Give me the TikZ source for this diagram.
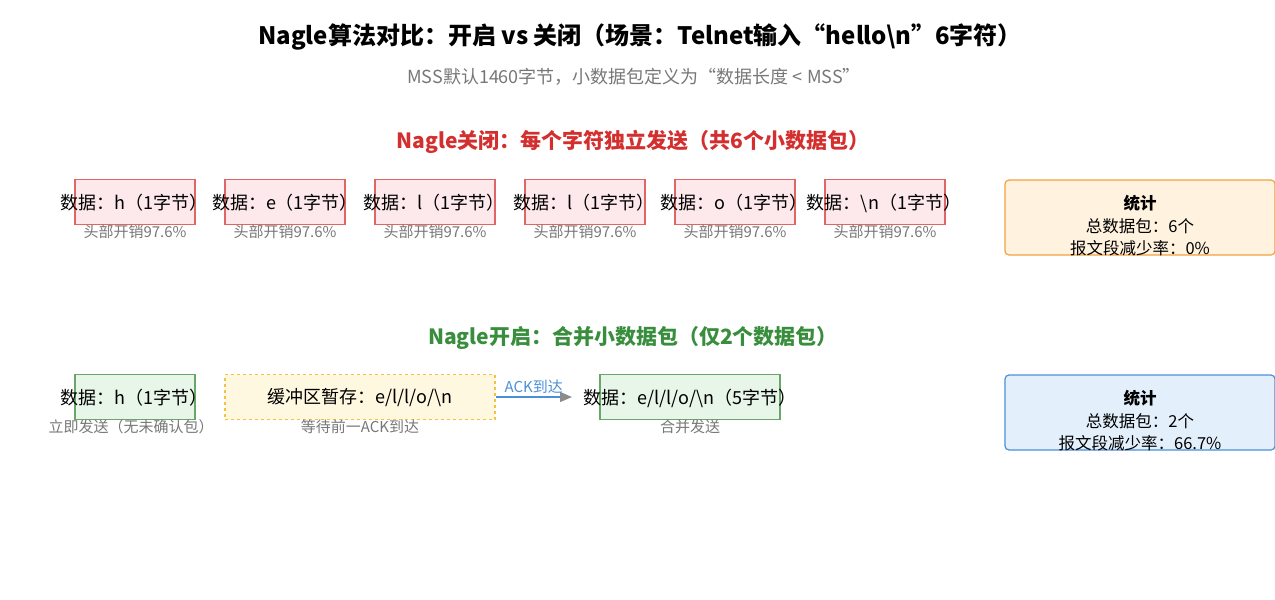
\documentclass[tikz,border=0pt]{standalone}
\usepackage{fontspec}
\setmainfont{Noto Sans CJK SC}
\usetikzlibrary{arrows.meta,positioning}
\definecolor{offred}{HTML}{D32F2F}
\definecolor{onggreen}{HTML}{388E3C}
\definecolor{ackblue}{HTML}{4A90D9}
\definecolor{notegray}{HTML}{777777}
\definecolor{pktred}{HTML}{E06666}
\definecolor{pktredfill}{HTML}{FDE9EB}
\definecolor{pktgreen}{HTML}{6AA66A}
\definecolor{pktgreenfill}{HTML}{E8F5E9}
\definecolor{bufyellow}{HTML}{F6C142}
\definecolor{bufyellowfill}{HTML}{FFF8E1}
\definecolor{statorange}{HTML}{F4A23C}
\definecolor{statorangefill}{HTML}{FFF2DF}
\definecolor{statbluefill}{HTML}{E3F0FC}

\begin{document}
\begin{tikzpicture}[x=1pt, y=-1pt,
  redbox/.style={rectangle, draw=pktred, line width=1.3pt, fill=pktredfill, minimum width=120pt, minimum height=45pt},
  greenbox/.style={rectangle, draw=pktgreen, line width=1.3pt, fill=pktgreenfill, minimum width=#1, minimum height=45pt},
  bufbox/.style={rectangle, draw=bufyellow, line width=1.2pt, dashed, fill=bufyellowfill, minimum width=270pt, minimum height=45pt},
  statbox/.style={rectangle, draw=#1, line width=1.2pt, rounded corners=4pt, minimum width=270pt, minimum height=75pt},
  pkt/.style={font=\fontsize{18}{21}\selectfont, inner sep=0pt},
  note/.style={font=\fontsize{15}{17}\selectfont, text=notegray, inner sep=0pt},
  stat/.style={font=\fontsize{16.5}{22.5}\selectfont, align=center, inner sep=0pt},
  headline/.style={font=\fontsize{21}{25}\selectfont\bfseries, text=#1, inner sep=0pt},
  arr/.style={-{Triangle[length=12pt, width=10pt, color=gray!90, fill=gray!90]}, line width=1.2pt, ackblue}
]
  \useasboundingbox (0,0) rectangle (1275,600);

  % titles
  \node[font=\fontsize{24}{28}\selectfont\bfseries, inner sep=0pt] (title) at (640,37) {Nagle算法对比：开启 vs 关闭（场景：Telnet输入“hello\textbackslash n”6字符）};
  \node[font=\fontsize{18}{22}\selectfont, text=notegray, inner sep=0pt] (subtitle) at (634,77) {MSS默认1460字节，小数据包定义为“数据长度 < MSS”};

  % Nagle off
  \node[headline=offred] (offtitle) at (633,142) {Nagle关闭：每个字符独立发送（共6个小数据包）};

  \node[redbox] (off1) at (135,202) {};
  \node[redbox] (off2) at (285,202) {};
  \node[redbox] (off3) at (435,202) {};
  \node[redbox] (off4) at (585,202) {};
  \node[redbox] (off5) at (735,202) {};
  \node[redbox] (off6) at (885,202) {};
  \node[pkt] (offt1) at (134,203) {数据：h（1字节）};
  \node[pkt] (offt2) at (285,203) {数据：e（1字节）};
  \node[pkt] (offt3) at (434,203) {数据：l（1字节）};
  \node[pkt] (offt4) at (584,203) {数据：l（1字节）};
  \node[pkt] (offt5) at (734,203) {数据：o（1字节）};
  \node[pkt] (offt6) at (884,203) {数据：\textbackslash n（1字节）};
  \node[note] (offn1) at (135,232) {头部开销97.6\%};
  \node[note] (offn2) at (285,232) {头部开销97.6\%};
  \node[note] (offn3) at (435,232) {头部开销97.6\%};
  \node[note] (offn4) at (585,232) {头部开销97.6\%};
  \node[note] (offn5) at (735,232) {头部开销97.6\%};
  \node[note] (offn6) at (885,232) {头部开销97.6\%};

  \node[statbox=statorange, fill=statorangefill] (offstat) at (1140,217.5) {};
  \node[stat] (offstatt) at (1140,226) {\textbf{统计}\\总数据包：6个\\报文段减少率：0\%};

  % Nagle on
  \node[headline=onggreen] (ontitle) at (633,338) {Nagle开启：合并小数据包（仅2个数据包）};

  \node[greenbox=120pt] (on1) at (135,397) {};
  \node[pkt] (ont1) at (134,398) {数据：h（1字节）};
  \node[note] (onn1) at (131,427) {立即发送（无未确认包）};

  \node[bufbox] (buf) at (360,397) {};
  \node[pkt] (buft) at (360,398) {缓冲区暂存：e/l/l/o/\textbackslash n};
  \node[note] (bufn) at (360,427) {等待前一ACK到达};

  \node[greenbox=180pt] (on2) at (690,397) {};
  \node[pkt] (ont2) at (690,398) {数据：e/l/l/o/\textbackslash n（5字节）};
  \node[note] (onn2) at (690,427) {合并发送};

  \coordinate (ackend) at (572,397);
  \draw[arr] (buf.east) -- node[above=3pt, font=\fontsize{15}{17}\selectfont, text=ackblue, inner sep=0pt] (ack) {ACK到达} (ackend);

  \node[statbox=ackblue, fill=statbluefill] (onstat) at (1140,412.5) {};
  \node[stat] (onstatt) at (1140,421) {\textbf{统计}\\总数据包：2个\\报文段减少率：66.7\%};
\end{tikzpicture}
\end{document}
